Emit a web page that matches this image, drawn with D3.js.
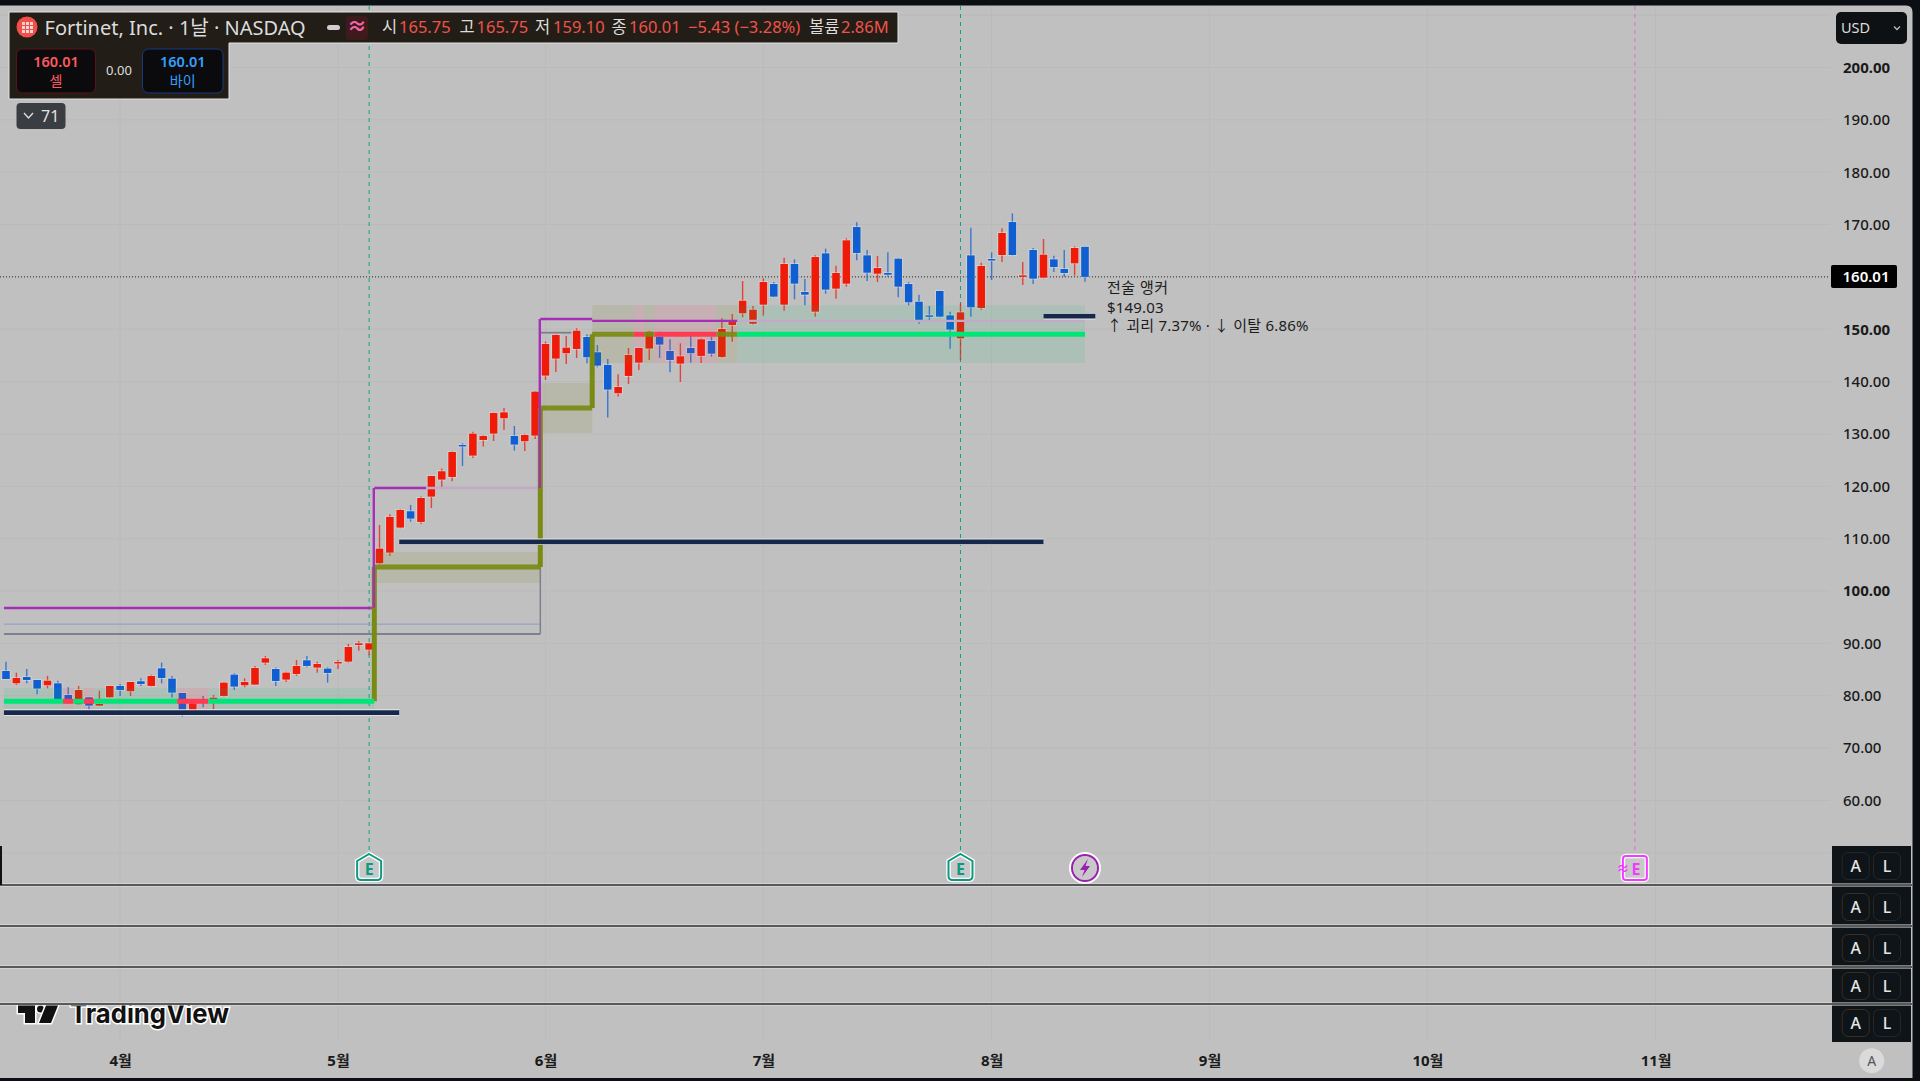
<!DOCTYPE html>
<html lang="ko">
<head>
<meta charset="utf-8">
<script src="https://cdn.jsdelivr.net/npm/d3@7"></script>
<style>
  html, body { margin: 0; padding: 0; background: #c0c0c0; overflow: hidden; }
  svg { display: block; }
  text { font-family: "Noto Sans", "Noto Sans CJK KR", sans-serif; }
</style>
</head>
<body>
<div id="chart"></div>
<script>
// Daily candles, bar 0 to bar 104
const opens = [84.74,82.38,83.59,83.02,82.00,82.38,80.16,78.37,79.71,78.12,79.71,81.88,80.86,82.77,81.88,85.25,83.28,80.54,77.16,79.20,79.39,79.97,84.04,82.00,82.13,86.33,85.12,83.09,84.17,86.78,85.38,85.19,86.20,86.52,89.71,88.81,
  105.31,107.34,112.12,115.24,113.20,118.04,121.29,121.79,127.91,125.87,128.86,130.07,133.00,129.63,128.61,129.69,
  141.15,144.40,145.42,146.24,148.53,145.61,143.19,137.78,141.09,143.63,146.31,148.60,145.86,143.44,146.43,144.91,147.77,144.71,150.82,
  153.05,151.07,154.70,158.65,154.70,162.47,157.12,153.36,164.50,157.76,158.71,169.53,164.12,160.62,160.75,163.49,158.65,155.27,152.66,157.31,152.66,148.27,164.12,154.06,163.42,164.19,170.49,160.11,165.14,159.86,163.36,161.51,162.59,165.75];
const highs = [86.52,84.42,85.12,83.02,83.79,82.89,81.62,81.88,79.71,80.98,81.88,82.26,82.64,83.34,84.04,86.33,83.79,80.54,79.20,79.97,80.16,82.64,84.29,83.34,85.70,87.61,85.38,84.61,86.84,87.61,86.52,85.44,86.84,89.90,90.47,90.15,
  112.63,114.66,115.68,116.45,118.04,121.99,123.39,126.70,128.22,130.45,129.82,134.14,134.97,131.53,130.01,138.22,
  147.64,149.04,148.72,150.19,149.04,147.00,144.33,141.40,146.43,146.43,149.74,149.55,148.09,147.32,148.72,148.28,148.60,152.09,152.92,
  159.22,154.45,159.73,159.03,163.68,163.36,159.60,164.12,165.40,162.15,167.37,170.42,165.14,164.00,164.70,163.61,159.03,156.61,154.45,157.37,153.36,154.96,169.41,162.72,164.70,169.28,172.14,162.85,165.52,167.24,164.06,165.14,165.84,165.75];
const lows = [83.21,82.07,82.38,80.28,81.43,79.20,78.44,78.25,77.16,78.06,79.58,79.97,79.97,81.88,81.75,82.38,79.65,76.02,76.78,77.80,77.42,79.84,81.11,81.62,82.07,85.89,81.88,82.64,83.79,85.44,84.42,82.51,85.12,86.33,88.62,87.80,
  105.12,106.77,111.99,113.26,112.82,115.87,119.69,120.97,123.90,125.42,127.59,128.67,130.77,126.82,126.76,129.05,
  140.32,141.85,143.38,144.52,143.50,142.74,133.13,137.14,139.56,142.23,144.14,144.52,141.79,139.94,143.63,143.57,144.78,144.51,147.63,
  152.28,150.88,152.60,156.10,153.55,155.72,154.57,152.41,156.80,155.85,158.14,163.17,159.22,159.03,160.05,156.10,154.57,151.07,151.65,152.28,146.30,144.13,152.41,153.68,159.41,162.85,164.06,158.46,158.65,159.73,160.94,160.05,160.24,159.10];
const closes = [83.21,83.40,83.02,81.37,82.89,79.20,78.57,81.11,78.12,78.44,81.88,81.11,82.64,82.26,83.79,83.40,80.60,77.16,78.57,78.88,79.65,82.51,81.75,82.64,85.31,87.16,82.83,84.42,85.70,85.70,86.08,84.36,86.46,89.32,90.02,90.02,
  108.11,114.16,115.49,113.84,117.78,121.99,122.88,126.57,127.65,130.07,129.63,134.02,134.14,127.97,129.82,138.09,
  147.20,148.92,146.50,149.74,144.65,143.06,138.48,138.98,145.10,146.43,149.55,147.07,144.14,144.84,145.42,148.09,145.35,150.05,151.45,
  155.46,153.75,159.03,156.23,162.47,158.71,156.61,163.80,157.57,160.75,166.99,164.57,160.81,161.70,160.43,158.14,155.15,151.52,152.41,152.41,149.93,153.24,154.19,162.09,163.23,168.39,164.19,160.30,159.67,164.25,161.89,160.75,165.52,160.01];

const lastPrice = 160.01;
const priceTicks = [200,190,180,170,160,150,140,130,120,110,100,90,80,70,60];
const gridPrices = [210,200,190,180,170,160,150,140,130,120,110,100,90,80,70,60,50];
const monthLabels = ['4월','5월','6월','7월','8월','9월','10월','11월'];
const monthBars = [11,32,52,73,95,116,137,159];

// Step levels of the anchor line: bar range, price, and zone around it
const anchorSteps = [
  { from: -0.2, to: 5.5, price: 78.95, top: 81.5, bottom: 77.3, state: 'above' },
  { from: 5.5, to: 6.5, price: 78.95, top: 81.5, bottom: 77.3, state: 'below' },
  { from: 6.5, to: 7.5, price: 78.95, top: 81.5, bottom: 77.3, state: 'above' },
  { from: 7.5, to: 8.5, price: 78.95, top: 81.5, bottom: 77.3, state: 'below' },
  { from: 8.5, to: 16.5, price: 78.95, top: 81.5, bottom: 77.3, state: 'above' },
  { from: 16.5, to: 19.5, price: 78.95, top: 81.5, bottom: 77.3, state: 'below' },
  { from: 19.5, to: 35.5, price: 78.95, top: 81.5, bottom: 77.3, state: 'above' },
  { from: 35.5, to: 51.5, price: 104.6, top: 107.47, bottom: 101.55, state: 'mixed' },
  { from: 51.5, to: 56.5, price: 134.97, top: 139.74, bottom: 130.2, state: 'mixed' },
  { from: 56.5, to: 60.5, price: 149.05, top: 154.6, bottom: 143.56, state: 'mixed' },
  { from: 60.5, to: 61.5, price: 149.05, top: 154.6, bottom: 143.56, state: 'below' },
  { from: 61.5, to: 62.5, price: 149.05, top: 154.6, bottom: 143.56, state: 'mixed' },
  { from: 62.5, to: 68.5, price: 149.05, top: 154.6, bottom: 143.56, state: 'below' },
  { from: 68.5, to: 70.5, price: 149.05, top: 154.6, bottom: 143.56, state: 'mixed' },
  { from: 70.5, to: 104, price: 149.05, top: 154.6, bottom: 143.56, state: 'above' }
];
const anchorRisers = [
  { bar: 35.5, from: 78.95, to: 104.6 },
  { bar: 51.5, from: 104.6, to: 134.97 },
  { bar: 56.5, from: 134.97, to: 149.05 }
];

const resistSteps = [
  { from: -0.2, to: 35.5, price: 96.77, faded: false },
  { from: 35.5, to: 40.5, price: 119.69, faded: false },
  { from: 40.5, to: 51.5, price: 119.69, faded: true },
  { from: 51.5, to: 56.5, price: 151.97, faded: false },
  { from: 56.5, to: 70.5, price: 151.6, faded: false },
  { from: 70.5, to: 104, price: 151.6, faded: true }
];
const resistRisers = [
  { bar: 35.5, from: 96.77, to: 119.69 },
  { bar: 51.5, from: 119.69, to: 151.97 }
];

const supportLevels = [
  { from: -0.2, to: 37.9, price: 76.8 },
  { from: 37.9, to: 100, price: 109.4 },
  { from: 100, to: 105, price: 152.5 }
];
const oldLevels = [
  { from: -0.2, to: 51.5, price: 93.7, kind: 'blue' },
  { from: -0.2, to: 51.5, price: 91.8, kind: 'gray' },
  { from: 51.5, to: 54.5, price: 149.35, kind: 'gray' }
];
const earningsBars = [35, 92];
const nextEarningsBar = 157;
const dividendBar = 104;

const width = 1920, height = 1081;
const plotBottom = 850;

const x = d3.scaleLinear().domain([0, 104]).range([6, 1085]);
const y = d3.scaleLinear().domain([60, 200]).range([800.5, 67.5]);

const colors = {
  up: '#ef1a08', down: '#0f5ed2',
  above: '#00e676', below: '#ff3b52', mixed: '#7b8a12',
  navy: '#16294d', purple: '#a52fb8', fadedPurple: '#c3aac6'
};
const zoneFill = {
  above: 'rgba(0,200,120,0.10)',
  below: 'rgba(255,60,90,0.13)',
  mixed: 'rgba(125,135,20,0.13)'
};

const svg = d3.select('#chart').append('svg')
  .attr('width', width).attr('height', height)
  .attr('viewBox', [0, 0, width, height]);

svg.append('rect').attr('width', width).attr('height', height).attr('fill', '#c0c0c0');

// Grid
svg.append('g').selectAll('line').data(gridPrices).join('line')
  .attr('x1', 0).attr('x2', 1830)
  .attr('y1', d => y(d)).attr('y2', d => y(d))
  .attr('stroke', '#bababa').attr('stroke-width', 1);

svg.append('g').selectAll('line').data(monthBars).join('line')
  .attr('x1', d => x(d)).attr('x2', d => x(d))
  .attr('y1', 6).attr('y2', 1040)
  .attr('stroke', '#bababa').attr('stroke-width', 1);

// Price line
svg.append('line')
  .attr('x1', 0).attr('x2', 1830)
  .attr('y1', y(lastPrice)).attr('y2', y(lastPrice))
  .attr('stroke', '#2a2a2a').attr('stroke-width', 1).attr('stroke-dasharray', '1,2');

// Event lines
svg.append('g').selectAll('line').data(earningsBars).join('line')
  .attr('x1', d => x(d)).attr('x2', d => x(d))
  .attr('y1', 6).attr('y2', plotBottom)
  .attr('stroke', '#12a184').attr('stroke-width', 1).attr('stroke-dasharray', '4,4');

svg.append('line')
  .attr('x1', x(nextEarningsBar)).attr('x2', x(nextEarningsBar))
  .attr('y1', 6).attr('y2', plotBottom)
  .attr('stroke', '#d86be0').attr('stroke-width', 1).attr('stroke-dasharray', '4,4');

// Thin old levels
svg.append('g').selectAll('line').data(oldLevels).join('line')
  .attr('x1', d => x(d.from)).attr('x2', d => x(d.to))
  .attr('y1', d => y(d.price)).attr('y2', d => y(d.price))
  .attr('stroke', d => d.kind === 'blue' ? '#93a3c6' : '#7f7f8e')
  .attr('stroke-width', d => d.kind === 'blue' ? 1.2 : 1.8);

svg.append('line')
  .attr('x1', x(51.5)).attr('x2', x(51.5))
  .attr('y1', y(104.6)).attr('y2', y(91.8))
  .attr('stroke', '#7f7f8e').attr('stroke-width', 1.5);

// Candles
const bars = d3.range(opens.length);
const candles = svg.append('g').selectAll('g').data(bars).join('g');

candles.append('line')
  .attr('x1', d => x(d)).attr('x2', d => x(d))
  .attr('y1', d => y(highs[d])).attr('y2', d => y(lows[d]))
  .attr('stroke', d => closes[d] >= opens[d] ? colors.up : colors.down)
  .attr('stroke-width', 1.4)
  .attr('stroke-opacity', 0.75);

candles.append('rect')
  .attr('x', d => x(d) - 3.8)
  .attr('width', 7.6)
  .attr('y', d => y(Math.max(opens[d], closes[d])))
  .attr('height', d => Math.max(1.5, Math.abs(y(opens[d]) - y(closes[d]))))
  .attr('fill', d => closes[d] >= opens[d] ? colors.up : colors.down)
  .attr('stroke', '#eeeeee').attr('stroke-opacity', 0.5).attr('stroke-width', 1.6)
  .attr('paint-order', 'stroke');

// Anchor zones sit over the candles
svg.append('g').selectAll('rect').data(anchorSteps).join('rect')
  .attr('x', d => x(d.from)).attr('width', d => x(d.to) - x(d.from))
  .attr('y', d => y(d.top)).attr('height', d => y(d.bottom) - y(d.top))
  .attr('fill', d => zoneFill[d.state]);

// Resistance step
svg.append('g').selectAll('line').data(resistSteps).join('line')
  .attr('x1', d => x(d.from)).attr('x2', d => x(d.to))
  .attr('y1', d => y(d.price)).attr('y2', d => y(d.price))
  .attr('stroke', d => d.faded ? colors.fadedPurple : colors.purple)
  .attr('stroke-width', 2.4);

// Anchor step
svg.append('g').selectAll('line').data(anchorRisers).join('line')
  .attr('x1', d => x(d.bar)).attr('x2', d => x(d.bar))
  .attr('y1', d => y(d.from)).attr('y2', d => y(d.to))
  .attr('stroke', colors.mixed).attr('stroke-width', 5);

svg.append('g').selectAll('line').data(anchorSteps).join('line')
  .attr('x1', d => x(d.from)).attr('x2', d => x(d.to))
  .attr('y1', d => y(d.price)).attr('y2', d => y(d.price))
  .attr('stroke', d => colors[d.state])
  .attr('stroke-opacity', d => d.state === 'mixed' ? 0.92 : 1)
  .attr('stroke-width', 5);

svg.append('g').selectAll('line').data(resistRisers).join('line')
  .attr('x1', d => x(d.bar) - 0.5).attr('x2', d => x(d.bar) - 0.5)
  .attr('y1', d => y(d.from)).attr('y2', d => y(d.to))
  .attr('stroke', colors.purple).attr('stroke-width', 2.4);

// Support levels with a pale edge
svg.append('g').selectAll('line').data(supportLevels).join('line')
  .attr('x1', d => x(d.from)).attr('x2', d => x(d.to))
  .attr('y1', d => y(d.price)).attr('y2', d => y(d.price))
  .attr('stroke', '#e9e9e9').attr('stroke-width', 6.5);
svg.append('g').selectAll('line').data(supportLevels).join('line')
  .attr('x1', d => x(d.from)).attr('x2', d => x(d.to))
  .attr('y1', d => y(d.price)).attr('y2', d => y(d.price))
  .attr('stroke', colors.navy).attr('stroke-width', 4.8);

// Anchor note
const note = svg.append('g').attr('fill', '#1c1c1c').attr('font-size', 15);
note.append('text').attr('x', 1107).attr('y', 293).attr('letter-spacing', 0.5).text('전술 앵커');
note.append('text').attr('x', 1107).attr('y', 313).attr('letter-spacing', 0.2).text('$149.03');
note.append('text').attr('x', 1107).attr('y', 331).attr('letter-spacing', 0.2).text('↑ 괴리 7.37% · ↓ 이탈 6.86%');

// Price axis
const priceAxis = svg.append('g')
  .attr('transform', 'translate(1843,0)')
  .call(d3.axisRight(y).tickValues(priceTicks).tickFormat(d3.format('.2f')).tickSize(0).tickPadding(0));
priceAxis.select('.domain').remove();
priceAxis.selectAll('text')
  .attr('font-family', null)
  .attr('font-size', 15)
  .attr('fill', '#1a1a1a')
  .attr('font-weight', d => d === 200 || d === 100 || d === 150 ? 700 : 500)
  .style('display', d => d === 160 ? 'none' : null);

svg.append('rect').attr('x', 1831).attr('y', 265).attr('width', 66).attr('height', 23).attr('rx', 2).attr('fill', '#000');
svg.append('text').attr('x', 1866).attr('y', 282).attr('text-anchor', 'middle')
  .attr('font-size', 15).attr('font-weight', 600).attr('fill', '#fff').text(lastPrice.toFixed(2));

// Month axis
const monthAxis = svg.append('g')
  .attr('transform', 'translate(0,1051)')
  .call(d3.axisBottom(x).tickValues(monthBars).tickFormat((d, i) => monthLabels[i]).tickSize(0).tickPadding(0));
monthAxis.select('.domain').remove();
monthAxis.selectAll('text')
  .attr('font-family', null)
  .attr('font-size', 15)
  .attr('font-weight', 700)
  .attr('dy', '1em')
  .attr('fill', '#1a1a1a');

// Watermark, cut off by the pane line above it
svg.append('clipPath').attr('id', 'wm').append('rect').attr('x', 0).attr('y', 1005).attr('width', 300).attr('height', 40);
const wm = svg.append('g').attr('clip-path', 'url(#wm)');
const logo = wm.append('g').attr('fill', '#111').attr('stroke', '#fff').attr('stroke-width', 3).attr('paint-order', 'stroke');
logo.append('path').attr('d', 'M18 1003H35V1023H25V1013H18Z');
logo.append('circle').attr('cx', 40.5).attr('cy', 1009).attr('r', 3.5);
logo.append('path').attr('d', 'M47 1003H59L51 1023H39Z');
wm.append('text').attr('x', 70).attr('y', 1023)
  .attr('font-size', 27).attr('font-weight', 700).attr('fill', '#111')
  .style('font-family', 'Inter, sans-serif')
  .attr('stroke', '#fff').attr('stroke-width', 3).attr('paint-order', 'stroke')
  .attr('textLength', 159).attr('lengthAdjust', 'spacingAndGlyphs')
  .text('TradingView');

// Event badges
earningsBars.forEach(b => {
  const g = svg.append('g').attr('transform', `translate(${x(b)},0)`);
  g.append('path').attr('d', 'M0 854L12 861V876Q12 880 8 880H-8Q-12 880 -12 876V861Z')
    .attr('fill', '#c8c8c8').attr('stroke', '#fff').attr('stroke-width', 4.5);
  g.append('path').attr('d', 'M0 854L12 861V876Q12 880 8 880H-8Q-12 880 -12 876V861Z')
    .attr('fill', 'none').attr('stroke', '#0c9b80').attr('stroke-width', 2);
  g.append('text').attr('y', 875).attr('text-anchor', 'middle')
    .attr('font-size', 16).attr('font-weight', 700).attr('fill', '#0c9b80').text('E');
});

const bolt = svg.append('g').attr('transform', `translate(${x(dividendBar)},868)`);
bolt.append('circle').attr('r', 14).attr('fill', '#c8c8c8').attr('stroke', '#fff').attr('stroke-width', 4);
bolt.append('circle').attr('r', 13).attr('fill', 'none').attr('stroke', '#9b1fb2').attr('stroke-width', 2);
bolt.append('path').attr('d', 'M3 -9L-5 2H-0.5L-3 9L5 -2H0.5Z').attr('fill', '#9b1fb2');

const soon = svg.append('g').attr('transform', `translate(${x(nextEarningsBar)},0)`);
soon.append('rect').attr('x', -12).attr('y', 856).attr('width', 24).attr('height', 24).attr('rx', 3)
  .attr('fill', '#c8c8c8').attr('stroke', '#fff').attr('stroke-width', 4.5);
soon.append('rect').attr('x', -12).attr('y', 856).attr('width', 24).attr('height', 24).attr('rx', 3)
  .attr('fill', 'none').attr('stroke', '#f03cff').attr('stroke-width', 2);
soon.append('text').attr('x', 1).attr('y', 875).attr('text-anchor', 'middle')
  .attr('font-size', 16).attr('font-weight', 700).attr('fill', '#f03cff').text('E');
soon.append('text').attr('x', -12).attr('y', 873).attr('text-anchor', 'middle')
  .attr('font-size', 13).attr('font-weight', 700).attr('fill', '#f03cff').text('≈');

// Right side A / L panel
const panelRows = [866, 907, 948, 986, 1023];
svg.append('rect').attr('x', 1832).attr('y', 846).attr('width', 79).attr('height', 196).attr('fill', '#0f1418');
panelRows.forEach((cy, i) => {
  [['A', 1855.7, i === 0 ? '#23282e' : '#3a2e1e'], ['L', 1887, '#23282e']].forEach(([label, cx, edge]) => {
    svg.append('rect').attr('x', cx - 13.5).attr('y', cy - 13.5).attr('width', 27).attr('height', 27)
      .attr('rx', 6).attr('fill', 'none').attr('stroke', edge);
    svg.append('text').attr('x', cx).attr('y', cy + 6).attr('text-anchor', 'middle')
      .attr('font-size', 16).attr('font-weight', 500).attr('fill', '#e6e6e6').text(label);
  });
});

// Pane separators
const paneLines = [885, 926, 967, 1004];
svg.append('g').selectAll('line').data(paneLines).join('line')
  .attr('x1', 0).attr('x2', 1912).attr('y1', d => d).attr('y2', d => d)
  .attr('stroke', '#e4e4e4').attr('stroke-width', 3);
svg.append('g').selectAll('line').data(paneLines).join('line')
  .attr('x1', 0).attr('x2', 1912).attr('y1', d => d).attr('y2', d => d)
  .attr('stroke', '#2b2b2b').attr('stroke-width', 1.5);
svg.append('rect').attr('x', 0).attr('y', 846).attr('width', 2).attr('height', 39).attr('fill', '#111');

svg.append('circle').attr('cx', 1871.7).attr('cy', 1060.7).attr('r', 12.5).attr('fill', '#dadada');
svg.append('text').attr('x', 1871.7).attr('y', 1066).attr('text-anchor', 'middle')
  .attr('font-size', 14).attr('fill', '#555').text('A');

// Header
svg.append('path').attr('d', 'M9 12H898V43H229V99H9Z')
  .attr('fill', '#221e17').attr('stroke', '#e4e4e4').attr('stroke-width', 1);
svg.append('circle').attr('cx', 27).attr('cy', 27).attr('r', 10.5).attr('fill', '#f14f4a');
svg.append('g').attr('fill', '#f9d3d0').selectAll('rect').data(d3.cross([-5, -1, 3], [-5, -1, 3])).join('rect')
  .attr('x', d => 27 + d[0]).attr('y', d => 27 + d[1]).attr('width', 3).attr('height', 3);

svg.append('text').attr('x', 44.5).attr('y', 34.5).attr('font-size', 20).attr('fill', '#dcdcdc')
  .text('Fortinet, Inc. · 1날 · NASDAQ');
svg.append('rect').attr('x', 327).attr('y', 25).attr('width', 13).attr('height', 5).attr('rx', 2.5).attr('fill', '#cfcfcf');
svg.append('rect').attr('x', 346).attr('y', 16).attr('width', 22).attr('height', 24).attr('rx', 3).attr('fill', '#3d1a1c');
svg.append('text').attr('x', 357).attr('y', 34).attr('text-anchor', 'middle')
  .attr('font-size', 20).attr('font-weight', 700).attr('fill', '#f463a8').text('≈');

const headerItems = [
  ['시', 382, '#dcdcdc'], ['165.75', 399, '#f0524a'],
  ['고', 459.5, '#dcdcdc'], ['165.75', 476.5, '#f0524a'],
  ['저', 535, '#dcdcdc'], ['159.10', 553, '#f0524a'],
  ['종', 611.5, '#dcdcdc'], ['160.01', 629, '#f0524a'],
  ['−5.43 (−3.28%)', 688, '#f0524a'],
  ['볼륨', 809, '#dcdcdc'], ['2.86M', 841, '#f0524a']
];
svg.append('g').selectAll('text').data(headerItems).join('text')
  .attr('x', d => d[1]).attr('y', 33).attr('font-size', 16.5).attr('fill', d => d[2]).text(d => d[0]);

// Sell / buy
[['셀', 16.5, 79, '#5c1218', '#ff5a5f'], ['바이', 142.5, 80.5, '#173a80', '#35a0ff']].forEach(([label, bx, w, edge, ink]) => {
  svg.append('rect').attr('x', bx).attr('y', 49).attr('width', w).attr('height', 44).attr('rx', 6)
    .attr('fill', '#0b0b0e').attr('stroke', edge);
  svg.append('text').attr('x', bx + w / 2).attr('y', 67).attr('text-anchor', 'middle')
    .attr('font-size', 14.5).attr('font-weight', 600).attr('fill', ink).text('160.01');
  svg.append('text').attr('x', bx + w / 2).attr('y', 86).attr('text-anchor', 'middle')
    .attr('font-size', 14).attr('fill', ink).text(label);
});
svg.append('text').attr('x', 119).attr('y', 75).attr('text-anchor', 'middle')
  .attr('font-size', 13).attr('fill', '#dedede').text('0.00');

svg.append('rect').attr('x', 16.5).attr('y', 103).attr('width', 49).attr('height', 26).attr('rx', 4).attr('fill', '#3a3d42');
svg.append('path').attr('d', 'M24 113L28.5 118L33 113').attr('fill', 'none').attr('stroke', '#ddd').attr('stroke-width', 1.4);
svg.append('text').attr('x', 41).attr('y', 122).attr('font-size', 16).attr('fill', '#e2e2e2').text('71');

// USD
svg.append('rect').attr('x', 1836).attr('y', 12).attr('width', 71).attr('height', 32).attr('rx', 5).attr('fill', '#0e1114');
svg.append('text').attr('x', 1841).attr('y', 33).attr('font-size', 14.5).attr('fill', '#dcdcdc').text('USD');
svg.append('path').attr('d', 'M1894 26.5L1897 29.5L1900 26.5').attr('fill', 'none').attr('stroke', '#bbb').attr('stroke-width', 1.3);

// Window frame
svg.append('path').attr('fill', '#0b0e12').attr('fill-rule', 'evenodd')
  .attr('d', `M0 0H${width}V${height}H0Z M0 5.5V1078H1912.5V12Q1912.5 5.5 1906 5.5Z`);
</script>
</body>
</html>
